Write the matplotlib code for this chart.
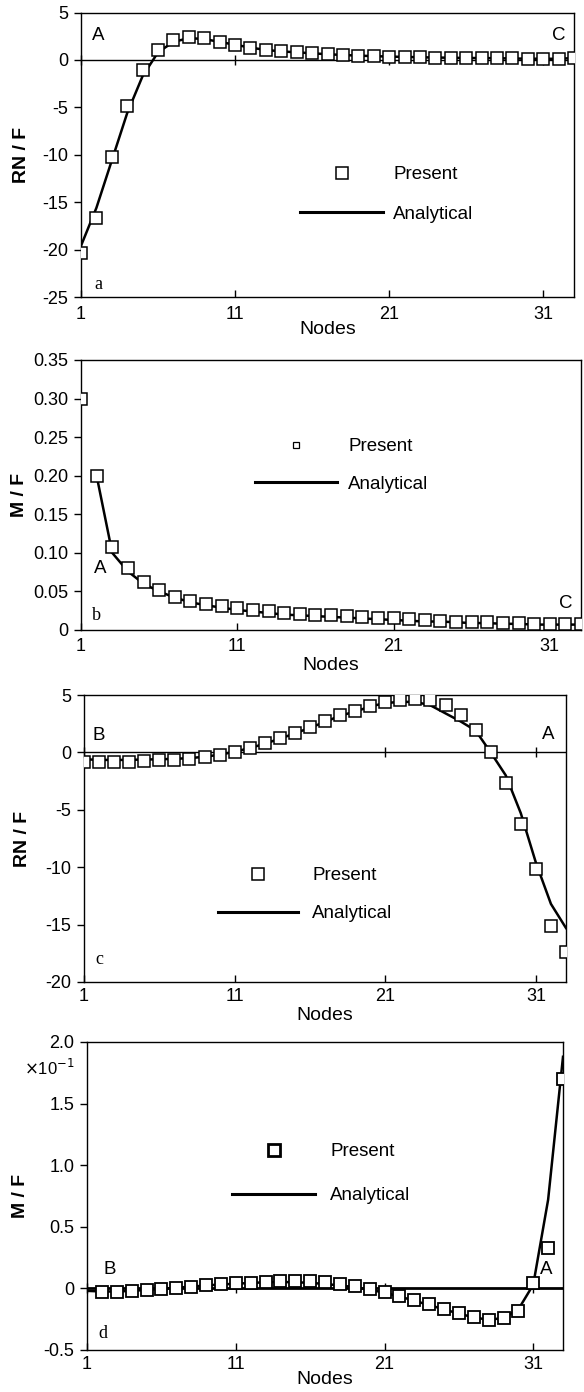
import matplotlib
matplotlib.use("Agg")
import matplotlib.pyplot as plt
from matplotlib.lines import Line2D

plt.rcParams['font.family'] = ['Liberation Sans', 'DejaVu Sans']
plt.rcParams['font.size'] = 13
plt.rcParams['axes.linewidth'] = 1.0

# ---------------- data ----------------
nodes = list(range(1, 34))
xticks = [1, 11, 21, 31]
xticklabels = ["1", "11", "21", "31"]

# panel a : RN/F, A -> C
a_present = [-20.4, -16.7, -10.2, -4.9, -1.1, 1.0, 2.1, 2.4, 2.3, 1.9, 1.6,
             1.3, 1.05, 0.9, 0.8, 0.7, 0.63, 0.53, 0.46, 0.4, 0.35, 0.32,
             0.28, 0.25, 0.23, 0.2, 0.2, 0.18, 0.15, 0.12, 0.1, 0.1, 0.25]
a_analytical = [-19.6, -15.6, -10.6, -5.6, -1.7, 0.8, 1.9, 2.3, 2.2, 1.9, 1.6,
                1.3, 1.05, 0.9, 0.8, 0.7, 0.6, 0.52, 0.45, 0.4, 0.35, 0.32,
                0.28, 0.25, 0.23, 0.2, 0.2, 0.18, 0.15, 0.13, 0.12, 0.12, 0.2]
a_yticks = [5, 0, -5, -10, -15, -20, -25]

# panel b : M/F, A -> C
b_present = [0.300, 0.200, 0.108, 0.080, 0.062, 0.052, 0.043, 0.038, 0.034,
             0.031, 0.028, 0.026, 0.024, 0.022, 0.021, 0.020, 0.019, 0.018,
             0.017, 0.016, 0.015, 0.014, 0.013, 0.012, 0.011, 0.011, 0.010,
             0.009, 0.009, 0.008, 0.008, 0.008, 0.008]
b_nodes_line = list(range(2, 34))
b_analytical = [0.200, 0.100, 0.076, 0.060, 0.050, 0.042, 0.036, 0.032,
                0.029, 0.026, 0.024, 0.022, 0.020, 0.019, 0.018, 0.017,
                0.016, 0.015, 0.014, 0.013, 0.012, 0.011, 0.011, 0.010,
                0.009, 0.009, 0.008, 0.008, 0.007, 0.007, 0.007, 0.007]
b_yticks = [0, 0.05, 0.10, 0.15, 0.20, 0.25, 0.30, 0.35]
b_yticklabels = ["0", "0.05", "0.10", "0.15", "0.20", "0.25", "0.30", "0.35"]

# panel c : RN/F, B -> A
c_present = [-0.8, -0.86, -0.8, -0.8, -0.75, -0.7, -0.66, -0.57, -0.43, -0.23,
             0.06, 0.4, 0.78, 1.26, 1.72, 2.2, 2.7, 3.28, 3.6, 4.08, 4.43,
             4.6, 4.66, 4.57, 4.14, 3.3, 1.93, 0.0, -2.67, -6.2, -10.15,
             -15.1, -17.4]
c_analytical = [-0.6, -0.65, -0.66, -0.65, -0.62, -0.6, -0.56, -0.5, -0.38,
                -0.2, 0.05, 0.38, 0.75, 1.2, 1.65, 2.15, 2.65, 3.2, 3.55,
                4.0, 4.3, 4.4, 4.4, 4.1, 3.4, 2.7, 1.9, 0.0, -2.0, -5.3,
                -9.6, -13.2, -15.3]
c_yticks = [5, 0, -5, -10, -15, -20]

# panel d : M/F (x 10^-1), B -> A
d_nodes_present = list(range(2, 34))
d_present = [-0.027, -0.027, -0.02, -0.016, -0.005, 0.005, 0.01, 0.027, 0.035,
             0.04, 0.046, 0.054, 0.06, 0.06, 0.057, 0.05, 0.032, 0.02, -0.005,
             -0.03, -0.06, -0.095, -0.127, -0.168, -0.2, -0.235, -0.26, -0.24,
             -0.18, 0.04, 0.33, 1.70]
d_analytical = [-0.02, -0.025, -0.025, -0.02, -0.012, -0.003, 0.006, 0.014,
                0.024, 0.032, 0.038, 0.044, 0.05, 0.052, 0.05, 0.045, 0.036,
                0.024, 0.01, -0.01, -0.035, -0.065, -0.1, -0.135, -0.17,
                -0.205, -0.235, -0.255, -0.24, -0.17, 0.03, 0.72, 1.88]
d_yticks = [-0.5, 0, 0.5, 1.0, 1.5, 2.0]
d_yticklabels = ["-0.5", "0", "0.5", "1.0", "1.5", "2.0"]

W, H = 584, 1392
fig = plt.figure(figsize=(W / 100, H / 100), dpi=100)


def make_axes(left, right, top, bottom):
    ax = fig.add_axes([left / W, 1 - bottom / H, (right - left) / W, (bottom - top) / H])
    ax._px = (left, right, top, bottom)
    return ax


def style(ax, ylim, yticks, yticklabels, ylabel, xpad, xlab_off, ylab_x):
    left, right, top, bottom = ax._px
    ax.set_xlim(1, 33)
    ax.set_ylim(*ylim)
    ax.set_xticks(xticks)
    ax.set_xticklabels(xticklabels)
    ax.set_yticks(yticks)
    ax.set_yticklabels(yticklabels)
    ax.tick_params(axis='x', direction='in', length=5, width=1, pad=xpad, labelsize=13)
    ax.tick_params(axis='y', direction='out', length=5, width=1, pad=4, labelsize=13)
    ax.set_xlabel("Nodes", fontsize=14)
    ax.xaxis.label.set_va('center')
    ax.xaxis.set_label_coords(0.5, -xlab_off / (bottom - top))
    ax.set_ylabel(ylabel, fontsize=14, fontweight='bold')
    ax.yaxis.label.set_va('center')
    ax.yaxis.set_label_coords((ylab_x - left) / (right - left), 0.5)


def zero_line(ax, lw=1.0):
    ax.axhline(0, color='black', lw=lw, zorder=2)
    lo, hi = ax.get_ylim()
    frac = (0 - lo) / (hi - lo)
    sec = ax.secondary_xaxis(frac)
    sec.set_xticks(xticks)
    sec.tick_params(direction='inout', length=7, width=1, labelbottom=False, labeltop=False)
    sec.spines['bottom'].set_visible(False)
    sec.spines['top'].set_visible(False)


def legend(ax, x_left, y_top, hl, htp, spacing, lw=2.2, msize=8, mew=1.1):
    h1 = Line2D([], [], ls='none', marker='s', mfc='white', mec='black',
                ms=msize, mew=mew)
    h2 = Line2D([], [], color='black', lw=lw)
    ax.legend([h1, h2], ["Present", "Analytical"], loc='upper left',
              bbox_to_anchor=(x_left / W, 1 - y_top / H),
              bbox_transform=fig.transFigure, frameon=False, numpoints=1,
              handlelength=hl, handletextpad=htp, labelspacing=spacing,
              borderpad=0, borderaxespad=0, fontsize=13.5)


mk = dict(ls='none', marker='s', mfc='white', mec='black', ms=8, mew=1.1, zorder=4)
serif = ['Liberation Serif', 'DejaVu Serif']
lab = dict(fontsize=13.5, ha='center', va='center')

# ---- panel a ----
ax = make_axes(81, 574, 12.5, 297)
style(ax, (-25, 5), a_yticks, [str(v) for v in a_yticks], "RN / F",
      xpad=6.5, xlab_off=32, ylab_x=22)
zero_line(ax)
ax.plot(nodes, a_analytical, color='black', lw=1.8, zorder=3)
ax.plot(nodes, a_present, **mk)
ax.text(2.1, 2.6, "A", **lab)
ax.text(32.0, 2.6, "C", **lab)
ax.text(2.1, -23.7, "a", fontsize=13, ha='center', va='center', family=serif)
legend(ax, 300, 166, hl=4.43, htp=0.53, spacing=1.2)

# ---- panel b ----
ax = make_axes(81, 581, 360, 630)
style(ax, (0, 0.35), b_yticks, b_yticklabels, "M / F",
      xpad=6, xlab_off=35, ylab_x=20)
ax.plot(b_nodes_line, b_analytical, color='black', lw=1.8, zorder=3)
ax.plot(nodes, b_present, **mk)
ax.text(2.2, 0.080, "A", **lab)
ax.text(32.0, 0.035, "C", **lab)
ax.text(2.0, 0.019, "b", fontsize=13, ha='center', va='center', family=serif)
legend(ax, 255, 438, hl=4.37, htp=0.59, spacing=1.09, msize=4.5, mew=0.9)

# ---- panel c ----
ax = make_axes(84, 566, 695, 982)
style(ax, (-20, 5), c_yticks, [str(v) for v in c_yticks], "RN / F",
      xpad=4, xlab_off=33, ylab_x=22)
zero_line(ax)
ax.plot(nodes, c_analytical, color='black', lw=1.8, zorder=3)
ax.plot(nodes, c_present, **mk)
ax.text(2.0, 1.5, "B", **lab)
ax.text(31.8, 1.6, "A", **lab)
ax.text(2.0, -18.0, "c", fontsize=13, ha='center', va='center', family=serif)
legend(ax, 218, 867, hl=4.27, htp=0.75, spacing=1.13)

# ---- panel d ----
ax = make_axes(87, 563, 1042, 1350)
style(ax, (-0.5, 2.0), d_yticks, d_yticklabels, "M / F",
      xpad=4, xlab_off=30, ylab_x=20)
zero_line(ax, lw=2.0)
ax.plot(nodes, d_analytical, color='black', lw=1.8, zorder=3)
ax.plot(d_nodes_present, d_present, **dict(mk, mew=1.3))
ax.text(2.5, 0.15, "B", **lab)
ax.text(31.9, 0.15, "A", **lab)
ax.text(2.1, -0.37, "d", fontsize=13, ha='center', va='center', family=serif)
legend(ax, 232, 1143, hl=4.43, htp=0.8, spacing=1.45, msize=8, mew=2.0)
fig.text(75 / W, 1 - 1068 / H, r"$\times$10$^{-1}$", fontsize=12, ha='right', va='center')

fig.savefig("out.png", dpi=100)
